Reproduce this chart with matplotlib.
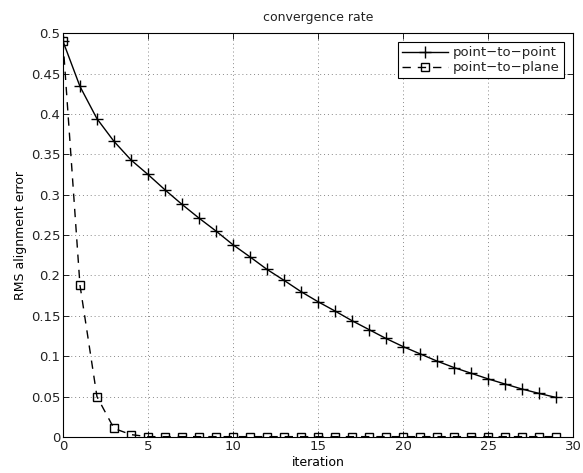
import numpy as np
import matplotlib
matplotlib.use("Agg")
import matplotlib.pyplot as plt

iterations = np.arange(30)
point_to_point = [0.490, 0.434, 0.394, 0.366, 0.343, 0.325, 0.306, 0.288, 0.271, 0.255,
                  0.238, 0.223, 0.2075, 0.194, 0.180, 0.1675, 0.156, 0.144, 0.133, 0.122,
                  0.112, 0.103, 0.094, 0.086, 0.079, 0.072, 0.0656, 0.0594, 0.054, 0.049]
point_to_plane = [0.490, 0.188, 0.050, 0.0107, 0.003] + [0.0005] * 25

plt.rcParams['font.family'] = 'DejaVu Sans'
plt.rcParams['font.size'] = 9
plt.rcParams['text.color'] = '#222222'

fig = plt.figure(figsize=(5.83, 4.73), dpi=100)
ax = fig.add_axes([0.108, 0.076, 0.875, 0.854])

ax.plot(iterations, point_to_point, '-', color='k', lw=1.0, marker='+', ms=8,
        mew=1.0, label='point\u2212to\u2212point')
ax.plot(iterations, point_to_plane, '--', color='k', lw=1.0, marker='s', ms=6,
        mfc='none', mew=1.0, dashes=(6, 5), label='point\u2212to\u2212plane')

ax.set_xlim(0, 30)
ax.set_ylim(0, 0.5)
ax.set_xticks(np.arange(0, 31, 5))
ax.set_yticks(np.arange(0, 0.51, 0.05))
ax.set_yticklabels(['0', '0.05', '0.1', '0.15', '0.2', '0.25', '0.3', '0.35', '0.4', '0.45', '0.5'])
ax.tick_params(direction='in', top=True, right=True, length=4, width=0.6,
               labelsize=9.5, pad=2, labelcolor='#222222')
ax.grid(True, linestyle=(0, (1, 3)), color='#888888', lw=0.7)
for s in ax.spines.values():
    s.set_linewidth(0.8)

ax.set_title('convergence rate', fontsize=9, pad=9)
ax.set_xlabel('iteration', fontsize=9, labelpad=2)
ax.set_ylabel('RMS alignment error', fontsize=9, labelpad=3)

leg = ax.legend(loc='upper right', fontsize=9.5, fancybox=False, framealpha=1,
                edgecolor='k', borderaxespad=0.7, handlelength=3.5, handletextpad=0.4,
                borderpad=0.3, labelspacing=0.15)
leg.get_frame().set_linewidth(0.8)

fig.savefig('out.png', dpi=100)
